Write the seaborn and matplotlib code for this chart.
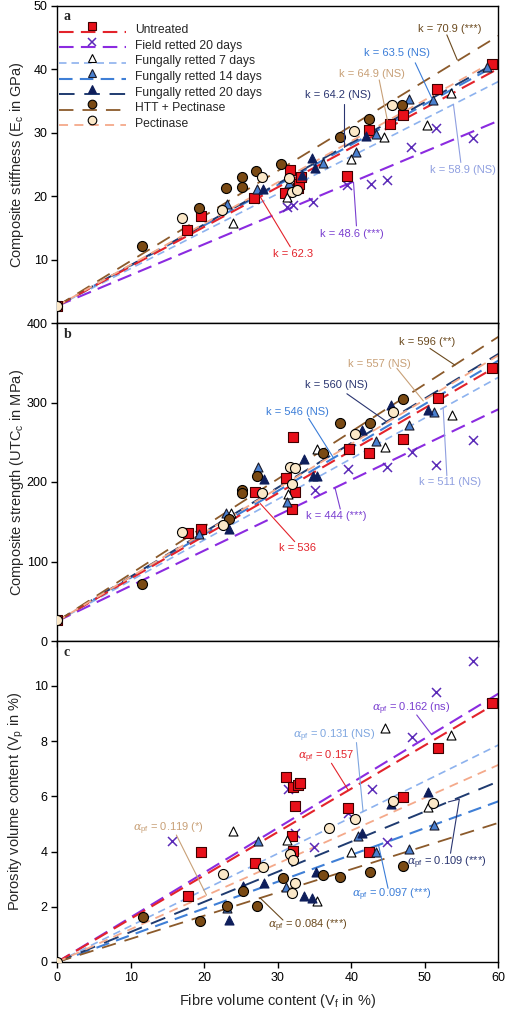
import numpy as np
import pandas as pd
import matplotlib
matplotlib.use("Agg")
import matplotlib.pyplot as plt
import seaborn as sns
from matplotlib.lines import Line2D
from matplotlib.legend_handler import HandlerLine2DCompound

# ---------------- data ----------------
groups = ["Untreated", "Field retted 20 days", "Fungally retted 7 days",
          "Fungally retted 14 days", "Fungally retted 20 days",
          "HTT + Pectinase", "Pectinase"]

k_stiffness = [62.3, 48.6, 58.9, 63.5, 64.2, 70.9, 64.9]
k_strength = [536, 444, 511, 546, 560, 596, 557]
alpha_pf = [0.157, 0.162, 0.131, 0.097, 0.109, 0.084, 0.119]
E_matrix = 2.7
UTS_matrix = 25.0

# panel a : composite stiffness (GPa)
unt_a_vf = [0, 17.7, 19.5, 26.7, 31.0, 31.7, 32.7, 32.9, 33.2, 39.4, 42.4, 45.3, 47.0, 51.6, 59.1]
unt_a_y = [2.7, 14.6, 16.9, 19.7, 20.5, 24.1, 21.3, 21.9, 23.0, 23.2, 30.4, 31.4, 32.8, 36.9, 40.8]
fld_a_vf = [31.2, 32.1, 34.8, 39.4, 42.7, 44.8, 48.1, 51.5, 56.6]
fld_a_y = [18.3, 18.6, 19.1, 21.8, 21.9, 22.6, 27.7, 30.7, 29.1]
f7_a_vf = [23.9, 31.2, 39.9, 44.4, 50.3, 53.5]
f7_a_y = [15.8, 19.9, 25.9, 29.3, 31.2, 36.2]
f14_a_vf = [23.1, 27.2, 31.5, 36.1, 40.7, 43.4, 47.8, 51.1, 58.5]
f14_a_y = [18.8, 21.1, 22.0, 25.2, 27.0, 29.8, 35.3, 35.2, 40.3]
f20_a_vf = [28.0, 33.3, 34.6, 35.1, 42.0]
f20_a_y = [21.1, 23.3, 26.0, 24.4, 29.5]
htt_a_vf = [11.5, 19.3, 23.0, 25.1, 25.1, 27.1, 30.5, 38.4, 42.4, 46.9]
htt_a_y = [12.2, 18.2, 21.2, 23.0, 21.4, 23.9, 25.0, 29.3, 32.1, 34.3]
pec_a_vf = [0, 16.9, 22.4, 27.9, 31.5, 32.0, 32.6, 40.3, 45.6]
pec_a_y = [2.7, 16.5, 17.8, 23.0, 22.8, 20.7, 21.0, 30.2, 34.4]

# panel b : composite strength (MPa)
unt_b_vf = [0, 17.8, 19.5, 26.9, 31.1, 32.0, 32.1, 32.3, 39.7, 42.4, 47.1, 51.8, 59.2]
unt_b_y = [27, 135.5, 141, 187, 204.7, 166, 256, 187, 242, 237, 254, 306, 344]
fld_b_vf = [35.0, 39.5, 44.8, 48.2, 51.5, 56.6]
fld_b_y = [190, 216, 219, 238, 222, 253]
f7_b_vf = [23.7, 31.4, 35.3, 44.6, 53.7]
f7_b_y = [161, 185, 242, 243.6, 284]
f14_b_vf = [19.3, 23.0, 27.3, 31.3, 43.4, 47.9, 51.2]
f14_b_y = [134, 161, 219, 175, 252, 271.7, 288]
f20_b_vf = [23.3, 28.1, 33.5, 34.8, 35.3, 41.4, 45.4, 50.5]
f20_b_y = [140.5, 204, 228.5, 207.5, 207.5, 265, 297, 291]
htt_b_vf = [11.5, 23.3, 25.1, 25.1, 27.2, 36.2, 38.5, 42.5, 47.1]
htt_b_y = [72, 153, 190, 186, 208, 237, 274.6, 274, 305]
pec_b_vf = [0, 17.0, 22.6, 27.9, 31.6, 32.3, 31.9, 40.5, 45.7]
pec_b_y = [27, 137.5, 146, 186, 218.5, 217, 197, 260, 288]

# panel c : porosity volume content (%)
unt_c_vf = [17.8, 19.6, 26.9, 31.1, 32.1, 32.7, 33.0, 32.3, 31.9, 32.1, 39.6, 42.4, 47.1, 51.8, 59.2]
unt_c_y = [2.39, 3.97, 3.6, 6.71, 6.35, 6.41, 6.5, 5.66, 4.58, 4.03, 5.57, 3.97, 5.99, 7.77, 9.4]
fld_c_vf = [15.6, 31.4, 32.3, 34.9, 39.5, 42.8, 44.8, 48.2, 51.5, 56.6]
fld_c_y = [4.38, 6.27, 4.69, 4.18, 5.41, 6.27, 4.34, 8.16, 9.8, 10.9]
f7_c_vf = [23.9, 31.3, 35.3, 40.0, 44.6, 50.4, 53.6]
f7_c_y = [4.75, 4.42, 2.21, 4.0, 8.47, 5.63, 8.22]
f14_c_vf = [23.1, 27.3, 31.1, 40.9, 43.4, 47.9, 51.2]
f14_c_y = [1.95, 4.38, 2.73, 4.57, 4.0, 4.08, 4.96]
f20_c_vf = [23.3, 25.2, 28.1, 33.5, 34.7, 35.2, 41.4, 45.4, 50.5]
f20_c_y = [1.52, 2.75, 2.85, 2.39, 2.31, 3.25, 4.69, 5.72, 6.17]
htt_c_vf = [11.6, 19.4, 23.1, 25.2, 27.2, 30.7, 36.2, 38.5, 42.5, 47.1]
htt_c_y = [1.64, 1.49, 2.04, 2.58, 2.04, 3.03, 3.15, 3.07, 3.27, 3.49]
pec_c_vf = [0, 22.5, 28.0, 31.6, 32.1, 32.3, 31.9, 36.9, 40.5, 45.7, 51.1]
pec_c_y = [0, 3.18, 3.43, 3.91, 3.7, 2.85, 2.51, 4.87, 5.18, 5.83, 5.75]

# annotation texts
labels_a = ["k = 62.3", "k = 48.6 (***)", "k = 58.9 (NS)", "k = 63.5 (NS)",
            "k = 64.2 (NS)", "k = 70.9 (***)", "k = 64.9 (NS)"]
labels_b = ["k = 536", "k = 444 (***)", "k = 511 (NS)", "k = 546 (NS)",
            "k = 560 (NS)", "k = 596 (**)", "k = 557 (NS)"]
labels_c = [r"$\alpha_{\mathregular{pf}}$ = 0.157", r"$\alpha_{\mathregular{pf}}$ = 0.162 (ns)",
            r"$\alpha_{\mathregular{pf}}$ = 0.131 (NS)", r"$\alpha_{\mathregular{pf}}$ = 0.097 (***)",
            r"$\alpha_{\mathregular{pf}}$ = 0.109 (***)", r"$\alpha_{\mathregular{pf}}$ = 0.084 (***)",
            r"$\alpha_{\mathregular{pf}}$ = 0.119 (*)"]

# ---------------- styles ----------------
line_colors = ["#E3232B", "#8B2BE0", "#8DB2EE", "#3F7FD6", "#1F3B70", "#8B5A2B", "#F4A98A"]
text_colors = ["#E3232B", "#7A3FD0", "#8F9FE0", "#3B7DD8", "#2A3570", "#6B4A1F", "#C8A077"]
text_colors_c = ["#E3232B", "#7A3FD0", "#7EA6E0", "#3B7DD8", "#2A3570", "#6B4A1F", "#C8A077"]
dashes = [(0, (7, 3.5)), (0, (7, 3.5)), (0, (4.5, 3)), (0, (6.5, 3.5)),
          (0, (8, 5)), (0, (8, 5)), (0, (5, 3.5))]
line_widths = [1.5, 1.5, 1.2, 1.5, 1.4, 1.3, 1.3]
markers = ["s", "x", "^", "^", "^", "o", "o"]
face_colors = ["#E8101A", "#5B2BB8", "white", "#4A80CF", "#0E1E5B", "#7A4A14", "#FBE8C8"]
edge_colors = ["#400000", "#5B2BB8", "black", "#1a1a2a", "#0E1E5B", "black", "black"]
msizes = [42, 42, 42, 42, 42, 52, 52]

sns.set_theme(style="ticks")
plt.rcParams["font.family"] = ["Liberation Sans", "DejaVu Sans"]
plt.rcParams["mathtext.fontset"] = "custom"
plt.rcParams["mathtext.rm"] = "Liberation Sans"
plt.rcParams["mathtext.it"] = "DejaVu Serif:italic"

fig = plt.figure(figsize=(5.06, 10.11), dpi=100)
L, W = 57.3 / 506, 441.0 / 506
ax_a = fig.add_axes([L, 1 - 323 / 1011, W, 317.3 / 1011])
ax_b = fig.add_axes([L, 1 - 641 / 1011, W, 318 / 1011])
ax_c = fig.add_axes([L, 1 - 962 / 1011, W, 321 / 1011])

x_line = np.array([0.0, 60.0])

panel_pts = {
    "a": [(unt_a_vf, unt_a_y), (fld_a_vf, fld_a_y), (f7_a_vf, f7_a_y), (f14_a_vf, f14_a_y),
          (f20_a_vf, f20_a_y), (htt_a_vf, htt_a_y), (pec_a_vf, pec_a_y)],
    "b": [(unt_b_vf, unt_b_y), (fld_b_vf, fld_b_y), (f7_b_vf, f7_b_y), (f14_b_vf, f14_b_y),
          (f20_b_vf, f20_b_y), (htt_b_vf, htt_b_y), (pec_b_vf, pec_b_y)],
    "c": [(unt_c_vf, unt_c_y), (fld_c_vf, fld_c_y), (f7_c_vf, f7_c_y), (f14_c_vf, f14_c_y),
          (f20_c_vf, f20_c_y), (htt_c_vf, htt_c_y), (pec_c_vf, pec_c_y)],
}
slopes = {"a": (E_matrix, [k / 100 for k in k_stiffness]),
          "b": (UTS_matrix, [k / 100 for k in k_strength]),
          "c": (0.0, alpha_pf)}

draw_order = [1, 2, 3, 4, 0, 5, 6]
for key, ax in zip("abc", [ax_a, ax_b, ax_c]):
    y0, sl = slopes[key]
    for i in draw_order:
        df = pd.DataFrame({"x": x_line, "y": y0 + sl[i] * x_line})
        sns.lineplot(data=df, x="x", y="y", ax=ax, color=line_colors[i],
                     linestyle=dashes[i], lw=line_widths[i], estimator=None,
                     sort=False, zorder=2)
    for i in [1, 0, 2, 3, 4, 5, 6]:
        xs, ys = panel_pts[key][i]
        dfp = pd.DataFrame({"x": xs, "y": ys})
        if markers[i] == "x":
            sns.scatterplot(data=dfp, x="x", y="y", ax=ax, marker="x",
                            color=face_colors[i], s=msizes[i], linewidth=1.1, zorder=3)
        else:
            sns.scatterplot(data=dfp, x="x", y="y", ax=ax, marker=markers[i],
                            color=face_colors[i], edgecolor=edge_colors[i],
                            s=msizes[i], linewidth=0.8, zorder=3)

# ---------------- annotations ----------------
ann_a = [((32.1, 10.9), [(31.7, 12.0), (27.6, 19.9)]),
         ((40.1, 14.1), [(40.7, 15.3), (40.3, 22.2)]),
         ((55.2, 24.1), [(54.9, 25.3), (53.9, 34.4)]),
         ((46.2, 42.6), [(48.7, 41.0), (51.0, 35.3)]),
         ((38.2, 36.0), [(39.0, 34.5), (39.0, 27.8)]),
         ((53.4, 46.3), [(53.0, 45.4), (54.4, 41.5)]),
         ((42.8, 39.3), [(43.8, 38.3), (44.9, 32.0)])]
ann_b = [((32.7, 116.6), [(32.3, 125), (27.6, 173)]),
         ((38.0, 157.6), [(38.5, 166), (37.8, 192)]),
         ((53.4, 200), [(53.0, 208), (52.5, 293)]),
         ((32.7, 288), [(34.2, 280), (37.6, 230)]),
         ((38.0, 322), [(39.4, 311), (44.8, 276)]),
         ((50.3, 375.7), [(50.7, 368), (54.1, 347)]),
         ((43.8, 349), [(46.2, 343), (49.8, 302)])]
ann_c = [((36.6, 7.44), [(37.3, 7.2), (39.6, 6.22)]),
         ((48.2, 9.19), [(48.9, 8.95), (50.9, 8.25)]),
         ((37.6, 8.2), [(40.7, 7.95), (41.6, 5.45)]),
         ((45.5, 2.43), [(45.0, 2.67), (43.7, 4.24)]),
         ((53.0, 3.58), [(53.5, 3.94), (54.7, 5.9), (53.2, 5.8)]),
         ((34.1, 1.3), [(30.7, 1.52), (27.6, 2.32)]),
         ((15.1, 4.82), [(16.2, 4.6), (20.3, 2.42)])]

for ax, anns, labs, cols in [(ax_a, ann_a, labels_a, text_colors),
                             (ax_b, ann_b, labels_b, text_colors),
                             (ax_c, ann_c, labels_c, text_colors_c)]:
    for i, ((tx, ty), path) in enumerate(anns):
        ax.text(tx, ty, labs[i], color=cols[i], fontsize=8, ha="center", va="center", zorder=5)
        px = [p[0] for p in path]
        py = [p[1] for p in path]
        ax.plot(px, py, color=cols[i], lw=0.8, zorder=4)

# ---------------- axes ----------------
for ax in [ax_a, ax_b, ax_c]:
    ax.set_xlim(0, 60)
    ax.set_xticks(np.arange(0, 61, 10))
    ax.tick_params(axis="both", direction="out", length=4, width=1, labelsize=9,
                   colors="black", pad=3)
    for s in ax.spines.values():
        s.set_visible(True)
        s.set_color("black")
        s.set_linewidth(1.0)
    ax.set_xlabel("")
    ax.yaxis.set_label_coords(-0.072, 0.5)

ax_a.set_ylim(0, 50)
ax_a.set_yticks([10, 20, 30, 40, 50])
ax_b.set_ylim(0, 400)
ax_b.set_yticks([0, 100, 200, 300, 400])
ax_c.set_ylim(0, 11.63)
ax_c.set_yticks([0, 2, 4, 6, 8, 10])
ax_a.tick_params(axis="x", labelbottom=False)
ax_b.tick_params(axis="x", labelbottom=False)

ax_a.set_ylabel(r"Composite stiffness (E$_\mathregular{c}$ in GPa)", fontsize=10.5)
ax_b.set_ylabel(r"Composite strength (UTC$_\mathregular{c}$ in MPa)", fontsize=10.5)
ax_c.set_ylabel(r"Porosity volume content (V$_\mathregular{p}$ in %)", fontsize=10.5)
ax_c.set_xlabel(r"Fibre volume content (V$_\mathregular{f}$ in %)", fontsize=10.5, labelpad=6)

for ax, letter in zip([ax_a, ax_b, ax_c], "abc"):
    ax.text(0.015, 0.985, letter, transform=ax.transAxes, fontsize=10,
            fontweight="bold", family="Liberation Serif", ha="left", va="top")


class HandlerMarkerAbove(HandlerLine2DCompound):
    def create_artists(self, legend, orig_handle, xdescent, ydescent,
                       width, height, fontsize, trans):
        arts = super().create_artists(legend, orig_handle, xdescent, ydescent,
                                      width, height, fontsize, trans)
        if len(arts) >= 2:
            line, mark = arts[0], arts[1]
            line.set_ydata(np.asarray(line.get_ydata()) - 2.0)
            mark.set_ydata(np.asarray(mark.get_ydata()) + 1.8)
        return arts


handles = []
for i in range(7):
    mk = markers[i]
    h = Line2D([], [], color=line_colors[i], linestyle=dashes[i], lw=line_widths[i],
               marker=mk, markersize=6.2, markerfacecolor=face_colors[i],
               markeredgecolor=edge_colors[i], markeredgewidth=0.8 if mk != "x" else 1.1)
    handles.append(h)
ax_a.legend(handles, groups, loc="upper left", bbox_to_anchor=(0.003, 0.942),
            frameon=False, fontsize=8.7, handlelength=5.6, handletextpad=0.7,
            labelspacing=0.3, borderaxespad=0, borderpad=0, numpoints=1,
            handler_map={Line2D: HandlerMarkerAbove()})

fig.savefig("out.png", dpi=100)
